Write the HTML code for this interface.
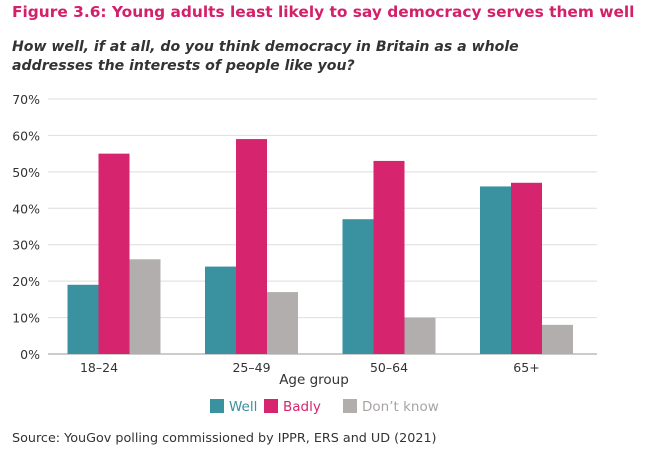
<!DOCTYPE html>
<html><head><meta charset="utf-8"><style>
body{margin:0;background:#fff;font-family:"DejaVu Sans","Liberation Sans",sans-serif;}
#wrap{position:relative;width:667px;height:467px;overflow:hidden;}
.t{position:absolute;white-space:nowrap;}
</style></head><body>
<div id="wrap">
<div class="t" style="left:12px;top:3px;font-size:15.4px;font-weight:bold;color:#d3206b;">Figure 3.6: Young adults least likely to say democracy serves them well</div>
<div class="t" style="left:12px;top:38px;font-size:14.1px;font-weight:bold;font-style:italic;color:#333;line-height:19px;">How well, if at all, do you think democracy in Britain as a whole<br>addresses the interests of people like you?</div>
<svg id="c" width="667" height="467" style="position:absolute;left:0;top:0"></svg>
<div class="t" style="left:12px;top:431px;font-size:12.75px;color:#333;">Source: YouGov polling commissioned by IPPR, ERS and UD (2021)</div>
</div>
<script>
const categories=["18–24","25–49","50–64","65+"];
const wellVals=[19,24,37,46];
const badlyVals=[55,59,53,47];
const dkVals=[26,17,10,8];
const yTicks=[0,10,20,30,40,50,60,70];
const seriesNames=["Well","Badly","Don’t know"];
const colors=["#3a919f","#d6246e","#b3aeae"];
const svg=document.getElementById('c');
const NS="http://www.w3.org/2000/svg";
const x0=48,x1=597,y0=354,yTop=99;
const y=v=>y0-(v/70)*(y0-yTop);
const gx=i=>114+i*137.5;
function mk(t,a,txt){const e=document.createElementNS(NS,t);for(const k in a)e.setAttribute(k,a[k]);if(txt!=null)e.textContent=txt;svg.appendChild(e);return e;}
yTicks.forEach(v=>{
 const l=mk('line',{x1:x0,x2:x1,y1:y(v),y2:y(v),stroke:v===0?'#999':'#dedede','stroke-width':1});
 
 
 const t=mk('text',{x:40,y:y(v)+5,'text-anchor':'end','font-size':12.5,fill:'#333'},v+'%');
 
 
});
const series=[wellVals,badlyVals,dkVals];
const bw=31;
categories.forEach((c,i)=>{
 series.forEach((s,j)=>{
  const bx=gx(i)+(j-1.5)*bw;
  const r=mk('rect',{x:bx,y:y(s[i]),width:bw,height:y0-y(s[i]),fill:colors[j]});
  
  
 });
 const t=mk('text',{x:i===0?gx(i)-15:gx(i),y:372,'text-anchor':'middle','font-size':12.5,fill:'#333'},c);
 
 
});
const xt=mk('text',{x:314,y:384,'text-anchor':'middle','font-size':13.5,fill:'#333'},'Age group');


const lx=[210,264,343];
seriesNames.forEach((n,j)=>{
 const r=mk('rect',{x:lx[j],y:399,width:14,height:14,fill:colors[j]});
 
 
 const t=mk('text',{x:lx[j]+19,y:411,'font-size':13.5,fill:j===2?'#a8a4a4':colors[j]},n);
 
 
});
</script>
</body></html>
